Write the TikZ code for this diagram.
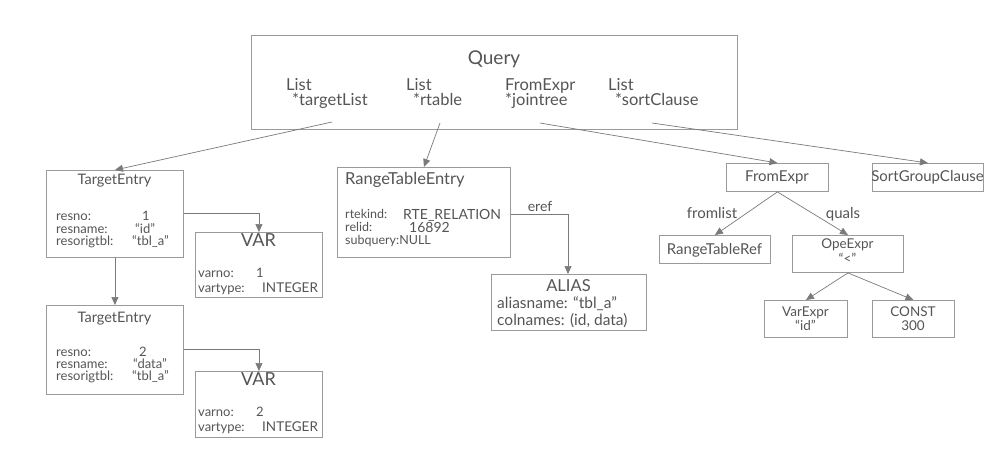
\documentclass[tikz,border=0pt]{standalone}
\usepackage{fontspec}
\setmainfont{Lato}
\usetikzlibrary{arrows.meta}
\definecolor{boxc}{HTML}{9A9A9A}
\definecolor{linec}{HTML}{7A7A7A}
\definecolor{txtc}{HTML}{555555}
\newcommand{\fs}[1]{\fontsize{#1}{#1}\selectfont}
\begin{document}
\begin{tikzpicture}[x=1pt,y=-1pt,
  box/.style={draw=boxc, line width=0.9pt, rectangle, anchor=north west, inner sep=0pt},
  tl/.style={text=txtc, inner sep=0pt, anchor=base west},
  tc/.style={text=txtc, inner sep=0pt, anchor=base},
  conn/.style={draw=linec, line width=0.7pt, -{Triangle[length=8pt,width=7pt]}},
]
\useasboundingbox[fill=white] (0,0) rectangle (1008,457);

% boxes
\node[box, minimum width=486pt, minimum height=94pt] (q) at (251,35) {};
\node[box, minimum width=137pt, minimum height=87pt] (te1) at (46,170) {};
\node[box, minimum width=127pt, minimum height=65pt] (var1) at (195,232) {};
\node[box, minimum width=137pt, minimum height=89pt] (te2) at (46,305) {};
\node[box, minimum width=127pt, minimum height=66pt] (var2) at (195,371) {};
\node[box, minimum width=173pt, minimum height=90pt] (rte) at (337,167) {};
\node[box, minimum width=155pt, minimum height=56pt] (alias) at (491,274) {};
\node[box, minimum width=102pt, minimum height=28pt] (fe) at (726,163) {};
\node[box, minimum width=111pt, minimum height=28pt] (sgc) at (872,163) {};
\node[box, minimum width=111pt, minimum height=28pt] (rtr) at (659,235) {};
\node[box, minimum width=111pt, minimum height=37pt] (ope) at (792,235) {};
\node[box, minimum width=83pt, minimum height=37pt] (ve) at (764,300) {};
\node[box, minimum width=82pt, minimum height=37pt] (cst) at (872,300) {};

% Query texts
\node[tc, font=\fs{19}] (qt) at (494,65) {Query};
\node[tl, font=\fs{16.5}] (ql1) at (286,91) {List};
\node[tl, font=\fs{16.5}] (ql2) at (292,106) {*targetList};
\node[tl, font=\fs{16.5}] (qr1) at (406,91) {List};
\node[tl, font=\fs{16.5}] (qr2) at (413,106) {*rtable};
\node[tl, font=\fs{16.5}] (qj1) at (505,91) {FromExpr};
\node[tl, font=\fs{16.5}] (qj2) at (505,106) {*jointree};
\node[tl, font=\fs{16.5}] (qs1) at (608,91) {List};
\node[tl, font=\fs{16.5}] (qs2) at (615,106) {*sortClause};
\coordinate (qtl) at (332,122);
\coordinate (qrt) at (440,123);
\coordinate (qjt) at (540,123);
\coordinate (qsc) at (652,123);

% TargetEntry 1
\node[tc, font=\fs{14.5}] (te1t) at (114.5,184) {TargetEntry};
\node[tl, font=\fs{13}] (te1a) at (56,220) {resno:};
\node[tl, font=\fs{13}] (te1b) at (56,233) {resname:};
\node[tl, font=\fs{13}] (te1c) at (56,245) {resorigtbl:};
\node[tl, font=\fs{13}] (te1av) at (142,220) {1};
\node[tl, font=\fs{13}] (te1bv) at (135,233) {“id”};
\node[tl, font=\fs{13}] (te1cv) at (132,245) {“tbl\_a”};

% VAR 1
\node[tc, font=\fs{18}] (var1t) at (258.5,246) {VAR};
\node[tl, font=\fs{13}] (var1a) at (198,277) {varno:};
\node[tl, font=\fs{13}] (var1b) at (198,292) {vartype:};
\node[tl, font=\fs{13}] (var1av) at (256,277) {1};
\node[tl, font=\fs{13.5}] (var1bv) at (262,292) {INTEGER};

% TargetEntry 2
\node[tc, font=\fs{14.5}] (te2t) at (114.5,322) {TargetEntry};
\node[tl, font=\fs{13}] (te2a) at (56,356) {resno:};
\node[tl, font=\fs{13}] (te2b) at (56,368) {resname:};
\node[tl, font=\fs{13}] (te2c) at (56,380) {resorigtbl:};
\node[tl, font=\fs{13}] (te2av) at (139,356) {2};
\node[tl, font=\fs{13}] (te2bv) at (133,368) {“data”};
\node[tl, font=\fs{13}] (te2cv) at (132,380) {“tbl\_a”};

% VAR 2
\node[tc, font=\fs{18}] (var2t) at (258.5,385) {VAR};
\node[tl, font=\fs{13}] (var2a) at (198,416) {varno:};
\node[tl, font=\fs{13}] (var2b) at (198,431) {vartype:};
\node[tl, font=\fs{13}] (var2av) at (256,416) {2};
\node[tl, font=\fs{13.5}] (var2bv) at (262,431) {INTEGER};

% RangeTableEntry
\node[tl, font=\fs{16.5}] (rtet) at (345,185) {RangeTableEntry};
\node[tl, font=\fs{12.5}] (rtea) at (345,218) {rtekind:};
\node[tl, font=\fs{12.5}] (rteb) at (345,231) {relid:};
\node[tl, font=\fs{12.5}] (rtec) at (345,244) {subquery:NULL};
\node[tl, font=\fs{14}] (rteav) at (403,219) {RTE\_RELATION};
\node[tl, font=\fs{14}] (rtebv) at (409,232) {16892};

% ALIAS
\node[tc, font=\fs{16.5}] (aliast) at (568.5,291) {ALIAS};
\node[tl, font=\fs{15.5}] (aliasa) at (497,308) {aliasname: “tbl\_a”};
\node[tl, font=\fs{15.5}] (aliasb) at (497,325) {colnames: (id, data)};

% FromExpr side
\node[tc, font=\fs{15}] (fet) at (777,182) {FromExpr};
\node[tc, font=\fs{15}] (sgct) at (927.5,182) {SortGroupClause};
\node[tc, font=\fs{15}] (rtrt) at (714.5,254) {RangeTableRef};
\node[tc, font=\fs{13.5}] (opet1) at (847.5,248) {OpeExpr};
\node[tc, font=\fs{13.5}] (opet2) at (847.5,263) {“<”};
\node[tc, font=\fs{13.5}] (vet1) at (805.5,316) {VarExpr};
\node[tc, font=\fs{13.5}] (vet2) at (805.5,330) {“id”};
\node[tc, font=\fs{13.5}] (cst1) at (913,316) {CONST};
\node[tc, font=\fs{13.5}] (cst2) at (913,330) {300};
\node[tc, font=\fs{15}] (fl) at (712,218) {fromlist};
\node[tc, font=\fs{15}] (qu) at (843,218) {quals};
\node[tc, font=\fs{14}] (eref) at (540,211) {eref};

% connectors
\draw[conn] (qtl) -- (te1.north);
\draw[conn] (qrt) -- (rte.north);
\draw[conn] (qjt) -- (fe.north);
\draw[conn] (qsc) -- (sgc.north);
\draw[conn] (te1.south) -- (te2.north);
\draw[conn] (te1.east |- 0,213) -| (var1.north);
\draw[conn] (te2.east |- 0,349) -| (var2.north);
\draw[conn] (rte.east |- 0,214) -| (alias.north -| 568,0);
\draw[conn] (fe.south) -- (rtr.north);
\draw[conn] (fe.south) -- (ope.north);
\draw[conn] (ope.south) -- (ve.north);
\draw[conn] (ope.south) -- (cst.north);
\end{tikzpicture}
\end{document}
